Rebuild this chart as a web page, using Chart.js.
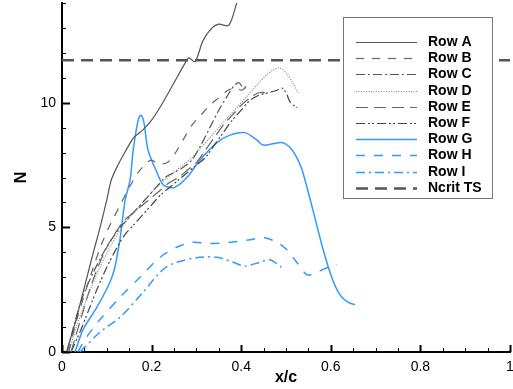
<!DOCTYPE html>
<html>
<head>
<meta charset="utf-8">
<script src="https://cdn.jsdelivr.net/npm/chart.js@4/dist/chart.umd.min.js"></script>
<style>
  html, body { margin: 0; padding: 0; background: #fff; }
  #wrap { width: 513px; height: 389px; }
</style>
</head>
<body>
<div id="wrap"><canvas id="grafico"></canvas></div>
<script>
// N-factor curves along x/c for each row

const rowA_x = [0.01, 0.02, 0.03, 0.04, 0.05, 0.06, 0.07, 0.085, 0.1, 0.11, 0.125, 0.14, 0.16, 0.18, 0.2, 0.225, 0.25, 0.275, 0.283, 0.297, 0.315, 0.335, 0.35, 0.372, 0.39, 0.395];
const rowA_n = [0, 0.6, 1.2, 1.9, 2.6, 3.3, 4.0, 5.0, 6.1, 6.9, 7.5, 8.0, 8.6, 8.9, 9.3, 10.0, 10.8, 11.6, 11.8, 11.65, 12.5, 13.0, 13.15, 13.1, 14.0, 14.3];

const rowB_x = [0.015, 0.03, 0.05, 0.07, 0.09, 0.11, 0.13, 0.15, 0.17, 0.19, 0.2, 0.215, 0.235, 0.25, 0.27, 0.29, 0.31, 0.33, 0.35, 0.37, 0.39, 0.4, 0.41];
const rowB_n = [0, 1.1, 2.3, 3.4, 4.4, 5.2, 5.9, 6.6, 7.2, 7.6, 7.7, 7.55, 7.6, 7.9, 8.5, 9.1, 9.5, 9.9, 10.2, 10.5, 10.6, 10.5, 10.6];

const rowC_x = [0.012, 0.03, 0.05, 0.07, 0.09, 0.11, 0.13, 0.15, 0.17, 0.19, 0.21, 0.23, 0.25, 0.27, 0.29, 0.31, 0.33, 0.35, 0.37, 0.385, 0.395, 0.405, 0.415];
const rowC_n = [0, 1.3, 2.4, 3.2, 3.9, 4.5, 5.0, 5.4, 5.8, 6.2, 6.6, 7.0, 7.2, 7.4, 7.7, 8.3, 9.0, 9.7, 10.3, 10.7, 10.8, 10.6, 10.7];

const rowD_x = [0.015, 0.03, 0.05, 0.07, 0.09, 0.11, 0.13, 0.15, 0.17, 0.19, 0.21, 0.23, 0.25, 0.27, 0.29, 0.31, 0.33, 0.35, 0.37, 0.39, 0.41, 0.43, 0.45, 0.47, 0.485, 0.5, 0.515, 0.527];
const rowD_n = [0, 0.9, 1.9, 2.8, 3.6, 4.3, 4.9, 5.4, 5.8, 6.2, 6.6, 6.9, 7.2, 7.5, 7.8, 8.2, 8.6, 9.0, 9.4, 9.8, 10.2, 10.6, 11.0, 11.3, 11.4, 11.2, 10.8, 10.4];

const rowE_x = [0.02, 0.04, 0.06, 0.08, 0.1, 0.12, 0.14, 0.16, 0.18, 0.2, 0.22, 0.24, 0.26, 0.28, 0.3, 0.32, 0.34, 0.36, 0.38, 0.4, 0.42, 0.44, 0.46];
const rowE_n = [0, 1.2, 2.4, 3.4, 4.2, 4.8, 5.3, 5.6, 5.9, 6.2, 6.5, 6.8, 7.0, 7.3, 7.6, 8.1, 8.6, 9.1, 9.5, 9.9, 10.2, 10.4, 10.4];

const rowF_x = [0.02, 0.04, 0.06, 0.08, 0.1, 0.12, 0.14, 0.16, 0.18, 0.2, 0.22, 0.24, 0.26, 0.28, 0.3, 0.32, 0.34, 0.36, 0.38, 0.4, 0.42, 0.44, 0.46, 0.48, 0.49, 0.5, 0.51, 0.525];
const rowF_n = [0, 0.8, 1.7, 2.6, 3.4, 4.1, 4.7, 5.1, 5.5, 5.9, 6.3, 6.6, 6.9, 7.2, 7.5, 7.8, 8.3, 8.8, 9.3, 9.7, 10.1, 10.3, 10.4, 10.5, 10.6, 10.4, 10.0, 9.8];

const rowG_x = [0.029, 0.047, 0.078, 0.107, 0.118, 0.13, 0.141, 0.152, 0.159, 0.17, 0.176, 0.183, 0.192, 0.212, 0.226, 0.241, 0.252, 0.279, 0.308, 0.346, 0.375, 0.408, 0.435, 0.449, 0.47, 0.491, 0.509, 0.524, 0.536, 0.56, 0.583, 0.602, 0.62, 0.638, 0.654];
const rowG_n = [0, 0.9, 1.8, 2.8, 3.4, 4.6, 6.1, 6.9, 8.1, 9.3, 9.5, 9.2, 8.1, 7.2, 6.7, 6.6, 6.6, 7.0, 7.7, 8.4, 8.7, 8.8, 8.5, 8.3, 8.35, 8.4, 8.2, 7.8, 7.3, 5.7, 4.1, 3.0, 2.3, 2.0, 1.9];

const rowH_x = [0.035, 0.055, 0.085, 0.13, 0.174, 0.219, 0.256, 0.292, 0.33, 0.375, 0.42, 0.449, 0.48, 0.502, 0.524, 0.547, 0.569, 0.594, 0.614];
const rowH_n = [0, 0.6, 1.3, 2.2, 3.0, 3.8, 4.2, 4.4, 4.35, 4.4, 4.5, 4.6, 4.4, 4.1, 3.6, 3.1, 3.2, 3.4, 3.5];

const rowI_x = [0.04, 0.085, 0.13, 0.181, 0.225, 0.256, 0.308, 0.346, 0.382, 0.408, 0.442, 0.464, 0.49];
const rowI_n = [0, 0.8, 1.4, 2.4, 3.3, 3.6, 3.8, 3.8, 3.6, 3.45, 3.6, 3.7, 3.4];

const ncrit_x = [0, 1];
const ncrit_n = [11.7, 11.7];

const xTicks = [0, 0.2, 0.4, 0.6, 0.8, 1];
const yTicks = [0, 5, 10];

const cinza = '#555555';
const azul = '#3399ff';

function pontos(xs, ys) {
  return xs.map((x, i) => ({ x: x, y: ys[i] }));
}

function serie(label, xs, ys, cor, dash, largura) {
  return {
    label: label,
    data: pontos(xs, ys),
    borderColor: cor,
    borderDash: dash,
    borderWidth: largura,
    pointRadius: 0,
    fill: false,
    tension: 0.3
  };
}

const datasets = [
  serie('Row A', rowA_x, rowA_n, cinza, [], 1.2),
  serie('Row B', rowB_x, rowB_n, '#666666', [8, 8], 1.2),
  serie('Row C', rowC_x, rowC_n, '#555555', [9, 3, 2, 3], 1.2),
  serie('Row D', rowD_x, rowD_n, '#888888', [1, 1.5], 1.2),
  serie('Row E', rowE_x, rowE_n, '#666666', [12, 6], 1.2),
  serie('Row F', rowF_x, rowF_n, '#444444', [9, 3, 2, 2, 2, 3], 1.2),
  serie('Row G', rowG_x, rowG_n, azul, [], 1.5),
  serie('Row H', rowH_x, rowH_n, azul, [9, 9], 1.5),
  serie('Row I', rowI_x, rowI_n, azul, [9, 4, 2, 4], 1.5),
  Object.assign(serie('Ncrit TS', ncrit_x, ncrit_n, '#555555', [12, 7], 2.5), { tension: 0 })
];

// ticks drawn inside the plot area, major + minor
const ticksInternos = {
  id: 'ticksInternos',
  afterDatasetsDraw(chart) {
    const c = chart.ctx;
    const xs = chart.scales.x, ys = chart.scales.y;
    const area = chart.chartArea;
    c.save();
    c.strokeStyle = '#000';
    for (let i = 0; i <= 20; i++) {
      const v = i * 0.05;
      const px = Math.round(xs.getPixelForValue(v)) + 0.5;
      const maior = i % 4 === 0;
      c.lineWidth = maior ? 2 : 1;
      c.beginPath();
      c.moveTo(px, area.bottom);
      c.lineTo(px, area.bottom - (maior ? 7 : 4));
      c.stroke();
    }
    for (let v = 0; v <= 14; v++) {
      const py = Math.round(ys.getPixelForValue(v)) + 0.5;
      const maior = v % 5 === 0;
      c.lineWidth = maior ? 2 : 1;
      c.beginPath();
      c.moveTo(area.left, py);
      c.lineTo(area.left + (maior ? 8 : 4), py);
      c.stroke();
    }
    c.restore();
  }
};

// legend box drawn over the plot
const legendaCaixa = {
  id: 'legendaCaixa',
  afterDraw(chart) {
    const c = chart.ctx;
    c.save();
    c.fillStyle = '#fff';
    c.fillRect(343, 17, 149, 181);
    c.strokeStyle = '#777';
    c.lineWidth = 1;
    c.strokeRect(343.5, 17.5, 149, 181);
    c.font = 'bold 14px "Liberation Sans", Arial, sans-serif';
    c.textBaseline = 'middle';
    chart.data.datasets.forEach((ds, i) => {
      const y = Math.round(42 + i * 16.2) + 0.5;
      c.strokeStyle = ds.borderColor;
      c.lineWidth = ds.borderWidth;
      c.setLineDash(ds.borderDash);
      c.beginPath();
      c.moveTo(356, y);
      c.lineTo(417, y);
      c.stroke();
      c.setLineDash([]);
      c.fillStyle = '#000';
      c.fillText(ds.label, 428, y);
    });
    c.restore();
  }
};

const fonte = { family: '"Liberation Sans", Arial, sans-serif', size: 14 };

function semPadding(s) {
  s.paddingTop = 0;
  s.paddingBottom = 0;
  s.paddingLeft = 0;
  s.paddingRight = 0;
}

new Chart(document.getElementById('grafico'), {
  type: 'line',
  data: { datasets: datasets },
  options: {
    responsive: true,
    maintainAspectRatio: false,
    animation: false,
    layout: { padding: { top: 3, right: 3, left: 0, bottom: 0 } },
    plugins: {
      legend: { display: false },
      tooltip: { enabled: false }
    },
    scales: {
      x: {
        type: 'linear',
        min: 0,
        max: 1,
        grid: { display: false, drawTicks: false },
        border: { display: true, color: '#000', width: 2 },
        afterBuildTicks: s => { s.ticks = xTicks.map(v => ({ value: v })); },
        afterFit: s => { s.height = 37; semPadding(s); },
        ticks: {
          color: '#000',
          font: fonte,
          padding: 7,
          maxRotation: 0,
          callback: v => String(+v.toFixed(1))
        },
        title: {
          display: true,
          text: 'x/c',
          color: '#000',
          font: { family: fonte.family, size: 16, weight: 'bold' },
          padding: { top: 0, bottom: 2 }
        }
      },
      y: {
        min: 0,
        max: 14,
        grid: { display: false, drawTicks: false },
        border: { display: true, color: '#000', width: 2 },
        afterBuildTicks: s => { s.ticks = yTicks.map(v => ({ value: v })); },
        afterFit: s => { s.width = 62; semPadding(s); },
        ticks: {
          color: '#000',
          font: fonte,
          padding: 6
        },
        title: {
          display: true,
          text: 'N',
          color: '#000',
          font: { family: fonte.family, size: 16, weight: 'bold' },
          padding: { top: 12, bottom: 0 }
        }
      }
    }
  },
  plugins: [ticksInternos, legendaCaixa]
});
</script>
</body>
</html>
